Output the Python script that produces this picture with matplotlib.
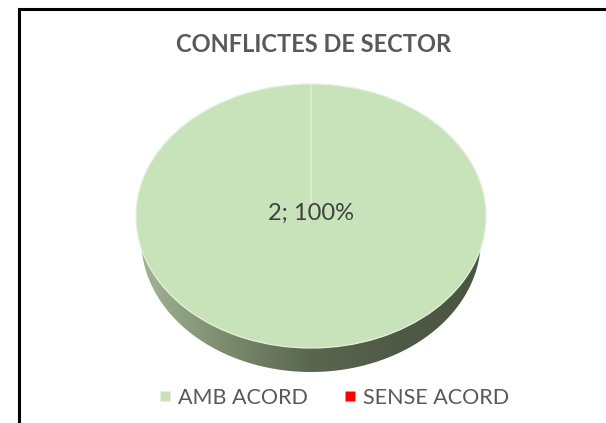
import numpy as np
import matplotlib
matplotlib.use('Agg')
import matplotlib.pyplot as plt
from matplotlib.patches import Polygon
from matplotlib.lines import Line2D
from matplotlib.colors import LinearSegmentedColormap

title = 'CONFLICTES DE SECTOR'
labels = ['AMB ACORD', 'SENSE ACORD']
values = [2, 0]
colors = ['#c8e3b9', '#ff0000']

plt.rcParams['font.family'] = ['Lato', 'DejaVu Sans']

fig = plt.figure(figsize=(6.06, 4.23), dpi=100)
fig.patch.set_facecolor('white')

# black frame: only left and top edges show in the original crop
fx, fy = 18.5/606, 1 - 9/423
fig.add_artist(Line2D([fx, fx], [0, fy], transform=fig.transFigure,
                      color='black', linewidth=2.2, solid_capstyle='projecting'))
fig.add_artist(Line2D([fx, 1], [fy, fy], transform=fig.transFigure,
                      color='black', linewidth=2.2, solid_capstyle='projecting'))

fig.text(314/606, 1 - 45/423, title, ha='center', va='center',
         fontsize=17, fontweight='bold', color='#595959')

# pie axes: box spans top ellipse plus extrusion
ax = fig.add_axes([136/606, 51/423, 350/606, 288/423])
depth = 24/132

# side (extrusion) with horizontal gradient
th = np.linspace(np.pi, 2*np.pi, 200)
top = np.column_stack([np.cos(th), np.sin(th)])
bot = np.column_stack([0.97*np.cos(th[::-1]), np.sin(th[::-1]) - depth])
side = Polygon(np.vstack([top, bot]), closed=True, facecolor='none', edgecolor='none')
ax.add_patch(side)
cmap = LinearSegmentedColormap.from_list('side', ['#a3b696', '#7b8d6e', '#5a664f', '#4f5a46', '#4a5542'])
grad = np.linspace(0, 1, 256).reshape(1, -1)
im = ax.imshow(grad, cmap=cmap, extent=(-1, 1, -1 - depth, 0.05), aspect='auto', zorder=0)
im.set_clip_path(side)

wedges, _ = ax.pie(values, colors=colors, startangle=90, counterclock=False,
                   radius=1, wedgeprops=dict(edgecolor='#e4efdd', linewidth=0.9))
ax.set_aspect('auto')
ax.set_xlim(-1, 1)
ax.set_ylim(-1 - depth, 1)
ax.axis('off')

pct = round(100 * values[0] / sum(values))
ax.text(0, 0.02, f'{values[0]}; {pct}%', ha='center', va='center',
        fontsize=17, color='#404040')

handles = [Line2D([], [], marker='s', linestyle='none', markersize=7.5,
                  markerfacecolor=c, markeredgecolor='none') for c in colors]
fig.legend(handles, labels, loc='center', bbox_to_anchor=(333/606, 1 - 398/423),
           ncol=2, frameon=False, fontsize=15.5, labelcolor='#595959',
           handletextpad=0.25, columnspacing=1.6, handlelength=0.7)

fig.savefig('out.png', dpi=100)
